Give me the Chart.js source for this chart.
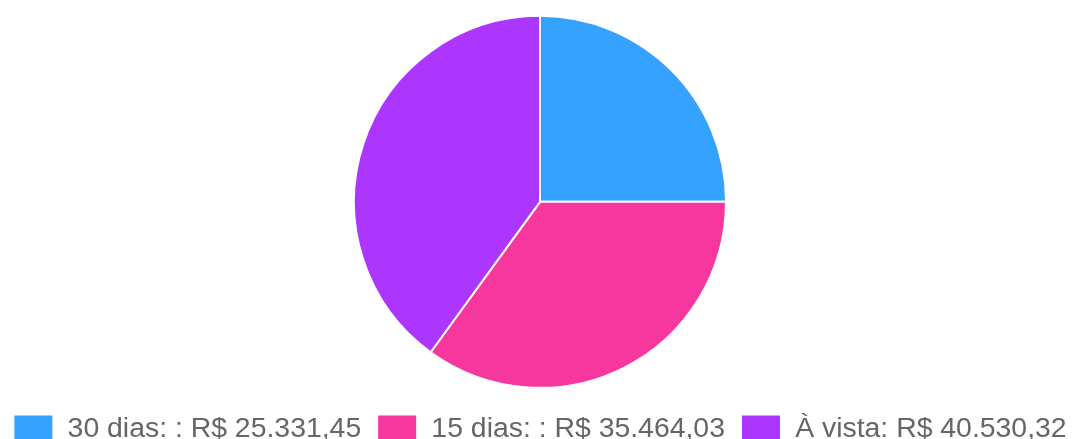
<!DOCTYPE html>
<html>
<head>
<meta charset="utf-8">
<script src="https://cdn.jsdelivr.net/npm/chart.js@4"></script>
<style>
  html, body { margin: 0; padding: 0; background: #fff; overflow: hidden; }
  #wrap { width: 1096px; height: 453px; margin-left: -8px; position: relative; }
</style>
</head>
<body>
<div id="wrap"><canvas id="grafico"></canvas></div>
<script>
// Valores por forma de pagamento
const rotulos = ['30 dias: ', '15 dias: ', 'À vista'];
const valores = [25331.45, 35464.03, 40530.32];
const cores = ['rgb(54,162,255)', 'rgb(247,54,158)', 'rgb(173,54,255)'];

function fmtReal(v) {
    const partes = v.toFixed(2).split('.');
    partes[0] = partes[0].replace(/\B(?=(\d{3})+(?!\d))/g, '.');
    return 'R$ ' + partes[0] + ',' + partes[1];
}

Chart.defaults.font.family = '"Liberation Sans", Arial, sans-serif';

new Chart(document.getElementById('grafico').getContext('2d'), {
    type: 'pie',
    data: {
        labels: rotulos,
        datasets: [{ data: valores, backgroundColor: cores, borderColor: '#fff', borderWidth: 2, radius: 186 }]
    },
    options: {
        responsive: true,
        maintainAspectRatio: false,
        animation: false,
        layout: { padding: { top: 5 } },
        plugins: {
            tooltip: { enabled: false },
            legend: {
                position: 'bottom',
                labels: {
                    color: '#666',
                    font: { size: 28.4 },
                    boxWidth: 40,
                    padding: 16,
                    generateLabels(chart) {
                        const base = Chart.overrides.pie.plugins.legend.labels.generateLabels(chart);
                        return base.map((item, i) => ({ ...item, text: rotulos[i] + ': ' + fmtReal(valores[i]) }));
                    }
                }
            }
        }
    }
});
</script>
</body>
</html>
